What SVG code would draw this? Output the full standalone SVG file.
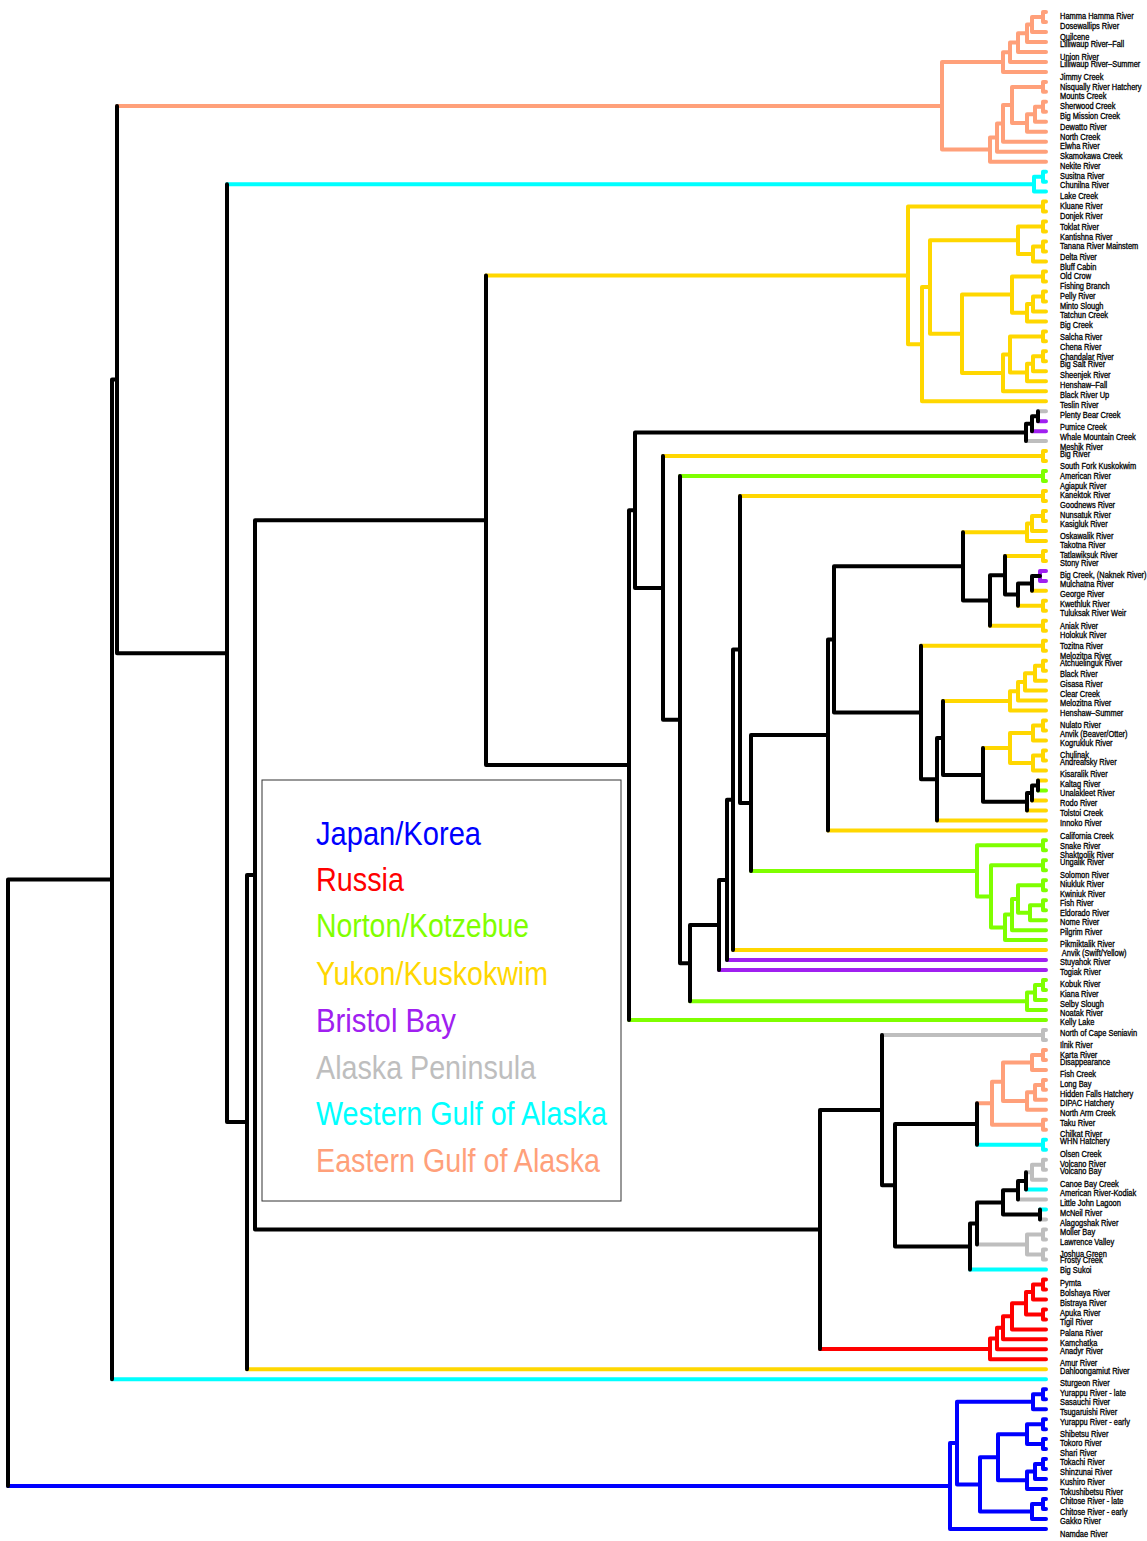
<svg xmlns="http://www.w3.org/2000/svg" width="1147" height="1541" viewBox="0 0 1147 1541">
<style>
.e{fill:none;stroke-width:4;stroke-linecap:round;stroke-linejoin:round}
.k{stroke:#000}.o{stroke:#FFA07A}.c{stroke:#00FFFF}.y{stroke:#FFD700}.g{stroke:#7FFF00}.p{stroke:#A020F0}.s{stroke:#BEBEBE}.r{stroke:#FF0000}.b{stroke:#0000FF}
.lb{font-family:"Liberation Sans",Arial,sans-serif;font-size:8.3px;fill:#000;stroke:#000;stroke-width:0.3}
.lg{font-family:"Liberation Sans",Arial,sans-serif;font-size:34px}
</style>
<rect width="1147" height="1541" fill="#fff"/>
<g id="legend">
<rect x="262" y="780" width="359" height="421" fill="#fff" stroke="#333" stroke-width="1"/>
<text class="lg" x="316" y="845" fill="#0000FF" textLength="165" lengthAdjust="spacingAndGlyphs">Japan/Korea</text>
<text class="lg" x="316" y="891" fill="#FF0000" textLength="88" lengthAdjust="spacingAndGlyphs">Russia</text>
<text class="lg" x="316" y="937" fill="#7FFF00" textLength="213" lengthAdjust="spacingAndGlyphs">Norton/Kotzebue</text>
<text class="lg" x="316" y="985" fill="#FFD700" textLength="232" lengthAdjust="spacingAndGlyphs">Yukon/Kuskokwim</text>
<text class="lg" x="316" y="1032" fill="#A020F0" textLength="140" lengthAdjust="spacingAndGlyphs">Bristol Bay</text>
<text class="lg" x="316" y="1079" fill="#BEBEBE" textLength="220" lengthAdjust="spacingAndGlyphs">Alaska Peninsula</text>
<text class="lg" x="316" y="1125" fill="#00FFFF" textLength="291" lengthAdjust="spacingAndGlyphs">Western Gulf of Alaska</text>
<text class="lg" x="316" y="1172" fill="#FFA07A" textLength="284" lengthAdjust="spacingAndGlyphs">Eastern Gulf of Alaska</text>
</g>
<g id="connectors">
<path class="e o" d="M1046 12H1043V22H1046M1032 17V32M1032 17H1043M1032 32H1046M1027 24.5V41.9M1027 24.5H1032M1027 41.9H1046M1018 33.2V51.9M1018 33.2H1027M1018 51.9H1046M1010 42.6V61.9M1010 42.6H1018M1010 61.9H1046M1003 52.2V71.9M1003 52.2H1010M1003 71.9H1046M1046 81.9H1043V91.8H1046M1046 101.8H1043V111.8H1046M1035 106.8V121.8M1035 106.8H1043M1035 121.8H1046M1027 114.3V131.8M1027 114.3H1035M1027 131.8H1046M1012 86.9V123.1M1012 86.9H1043M1012 123.1H1027M1003 105V141.7M1003 105H1012M1003 141.7H1046M997 123.4V151.7M997 123.4H1003M997 151.7H1046M990 137.5V161.7M990 137.5H997M990 161.7H1046M942 62.1V149.6M942 62.1H1003M942 149.6H990M117 105.9H942
M1046 1049.9H1043V1059.9H1046M1032 1054.9V1069.9M1032 1054.9H1043M1032 1069.9H1046M1046 1079.9H1043V1089.8H1046M1035 1084.9V1099.8M1035 1084.9H1043M1035 1099.8H1046M1027 1092.3V1109.8M1027 1092.3H1035M1027 1109.8H1046M1003 1062.4V1101.1M1003 1062.4H1032M1003 1101.1H1027M1046 1119.8H1043V1129.8H1046M992 1081.8V1124.8M992 1081.8H1003M992 1124.8H1043M977 1103.3H992"/>
<path class="e c" d="M1046 171.7H1043V181.7H1046M1034 176.7V191.6M1034 176.7H1043M1034 191.6H1046M227 184.2H1034M977 1144.7H1043M1046 1139.7H1043V1149.7H1046M970 1269.5H1046M1026 1189.6H1046M1040 1209.6H1046M112 1379.3H1046"/>
<path class="e s" d="M882 1035H1043M1046 1030H1043V1039.9H1046M1038 411.2H1046M1026 441.1H1046M1046 1159.7H1043V1169.7H1046M1032 1164.7V1179.7M1032 1164.7H1043M1032 1179.7H1046M1026 1172.2H1032M1018 1199.6H1046M1040 1219.6H1046M1046 1229.6H1043V1239.5H1046M1046 1249.5H1043V1259.5H1046M1027 1234.6V1254.5M1027 1234.6H1043M1027 1254.5H1043M977 1244.6H1027"/>
<path class="e p" d="M1038 421.2H1046M1032 431.2H1046M1046 570.9H1040V580.9H1046M727 960.1H1046M719 970.1H1046"/>
<path class="e y" d="M1046 201.6H1043V211.6H1046M1046 221.6H1043V231.6H1046M1046 241.5H1043V251.5H1046M1033 246.5V261.5M1033 246.5H1043M1033 261.5H1046M1018 226.6V254M1018 226.6H1043M1018 254H1033M1046 271.5H1043V281.5H1046M1046 291.4H1043V301.4H1046M1033 296.4V311.4M1033 296.4H1043M1033 311.4H1046M1027 303.9V321.4M1027 303.9H1033M1027 321.4H1046M1012 276.5V312.7M1012 276.5H1043M1012 312.7H1027M1046 331.4H1043V341.3H1046M1046 351.3H1043V361.3H1046M1033 356.3V371.3M1033 356.3H1043M1033 371.3H1046M1027 363.8V381.3M1027 363.8H1033M1027 381.3H1046M1010 336.4V372.6M1010 336.4H1043M1010 372.6H1027M1003 354.5V391.2M1003 354.5H1010M1003 391.2H1046M962 294.6V372.9M962 294.6H1012M962 372.9H1003M930 240.3V333.8M930 240.3H1018M930 333.8H962M922 287.1V401.2M922 287.1H930M922 401.2H1046M908 206.6V344.2M908 206.6H1043M908 344.2H922M486 275.4H908
M663 456.1H1043M1046 451.1H1043V461.1H1046M740 496H1043M1046 491H1043V501H1046
M1046 511H1043V521H1046M1032 516V531M1032 516H1043M1032 531H1046M1027 523.5V540.9M1027 523.5H1032M1027 540.9H1046M963 532.2H1027
M1046 550.9H1043V560.9H1046M1005 555.9H1043M1032 590.8H1046M1046 600.8H1043V610.8H1046M1018 605.8H1043M1046 620.8H1043V630.8H1046M990 625.8H1043
M1046 640.7H1043V650.7H1046M921 645.7H1043
M1046 660.7H1043V670.7H1046M1035 665.7V680.7M1035 665.7H1043M1035 680.7H1046M1025 673.2V690.6M1025 673.2H1035M1025 690.6H1046M1018 681.9V700.6M1018 681.9H1025M1018 700.6H1046M1010 691.3V710.6M1010 691.3H1018M1010 710.6H1046M943 701H1010
M1046 720.6H1043V730.6H1046M1033 725.6V740.5M1033 725.6H1043M1033 740.5H1046M1046 750.5H1043V760.5H1046M1033 755.5V770.5M1033 755.5H1043M1033 770.5H1046M1010 733.1V763M1010 733.1H1033M1010 763H1033M983 748H1010
M1038 780.5H1046M1032 800.4H1046M1027 810.4H1046M937 820.4H1046M828 830.4H1046M733 950.1H1046M247 1369.3H1046"/>
<path class="e g" d="M1038 790.4H1046M680 476.1H1043M1046 471.1H1043V481.1H1046
M751 870.9H977M977 845.3V896.4M977 845.3H1043M1046 840.3H1043V850.3H1046M977 896.4H991M991 865.3V927.4M991 865.3H1043M1046 860.3H1043V870.3H1046M991 927.4H1005M1005 914.6V940.1M1005 940.1H1046M1005 914.6H1012M1012 899V930.2M1012 930.2H1046M1012 899H1018M1018 885.3V912.7M1018 885.3H1043M1046 880.3H1043V890.2H1046M1018 912.7H1030M1030 905.2V920.2M1030 920.2H1046M1030 905.2H1043M1046 900.2H1043V910.2H1046
M690 1001.3H1027M1027 992.5V1010M1027 1010H1046M1027 992.5H1035M1035 985.1V1000M1035 1000H1046M1035 985.1H1043M1046 980.1H1043V990H1046M629 1020H1046"/>
<path class="e r" d="M820 1349H990M990 1338.6V1359.3M990 1359.3H1046M990 1338.6H997M997 1327.8V1349.3M997 1349.3H1046M997 1327.8H1003M1003 1316.3V1339.3M1003 1339.3H1046M1003 1316.3H1012M1012 1303.2V1329.4M1012 1329.4H1046M1012 1303.2H1026M1026 1292V1314.4M1026 1314.4H1043M1026 1292H1033M1046 1309.4H1043V1319.4H1046M1033 1284.5V1299.4M1033 1299.4H1046M1033 1284.5H1043M1046 1279.5H1043V1289.4H1046"/>
<path class="e b" d="M8 1486H950M950 1443V1529M950 1529H1046M950 1443H957M957 1401.7V1484.4M957 1401.7H1033M957 1484.4H980M1033 1394.2V1409.2M1033 1409.2H1046M1033 1394.2H1043M1046 1389.2H1043V1399.2H1046M980 1457.2V1511.5M980 1457.2H998M980 1511.5H1032M998 1434.2V1480.3M998 1434.2H1027M998 1480.3H1027M1027 1424.2V1444.1M1027 1424.2H1043M1027 1444.1H1043M1046 1419.2H1043V1429.2H1046M1046 1439.1H1043V1449.1H1046M1027 1471.6V1489M1027 1489H1046M1027 1471.6H1035M1035 1464.1V1479.1M1035 1479.1H1046M1035 1464.1H1043M1046 1459.1H1043V1469.1H1046M1032 1504V1519M1032 1519H1046M1032 1504H1043M1046 1499H1043V1509H1046"/>
<path class="e k" d="M8 879.4V1486M8 879.4H112M112 379.5V1379.3M112 379.5H117M117 105.9V653.2M117 653.2H227M227 184.2V1122.1M227 1122.1H247M247 874.9V1369.3M247 874.9H255M255 520.3V1229.6M255 520.3H486M255 1229.6H820M486 275.4V765.1M486 765.1H629M629 510.2V1020M629 510.2H635M635 432.4V587.9M635 432.4H1026M635 587.9H663M663 456.1V719.7M663 719.7H680M680 476.1V963.2M680 963.2H690M690 925V1001.3M690 925H719M719 880V970.1M719 880H727M727 799.8V960.1M727 799.8H733M733 649.5V950.1M733 649.5H740M740 496V802.9M740 802.9H751M751 734.9V870.9M751 734.9H828M828 639.4V830.4M828 639.4H834M834 566.3V712.5M834 566.3H963M834 712.5H921
M1026 423.7V441.1M1026 423.7H1032M1032 416.2V431.2M1032 416.2H1038M1038 411.2V421.2
M963 532.2V600.6M963 600.6H990M990 575.3V625.8M990 575.3H1005M1005 555.9V594.6M1005 594.6H1018M1018 583.4V605.8M1018 583.4H1032M1032 575.9V590.8M1032 575.9H1040
M921 645.7V779.2M921 779.2H937M937 738V820.4M937 738H943M943 701V774.9M943 774.9H983M983 748V801.7M983 801.7H1027M1027 793V810.4M1027 793H1032M1032 785.5V800.4M1032 785.5H1038M1038 780.5V790.4
M820 1110.1V1349M820 1110.1H882M882 1035V1185.3M882 1185.3H895M895 1124.1V1246.5M895 1124.1H977M895 1246.5H970M977 1103.3V1144.7M970 1223.5V1269.5M970 1223.5H977M977 1202.5V1244.6M977 1202.5H1003M1003 1190.3V1214.6M1003 1190.3H1018M1003 1214.6H1040M1040 1209.6V1219.6M1018 1180.9V1199.6M1018 1180.9H1026M1026 1172.2V1189.6"/>
</g>
<g id="leaves" class="lb" transform="translate(1060 0) scale(0.9 1)">
<g id="L1"><text y="18.7">Hamma Hamma River</text></g>
<g id="L2"><text y="28.7">Dosewallips River</text></g>
<g id="L3"><text y="40.3">Quilcene</text></g>
<g id="L4"><text y="47">Lilliwaup River–Fall</text></g>
<g id="L5"><text y="59.7">Union River</text></g>
<g id="L6"><text y="67.3">Lilliwaup River–Summer</text></g>
<g id="L7"><text y="79.7">Jimmy Creek</text></g>
<g id="L8"><text y="89.7">Nisqually River Hatchery</text></g>
<g id="L9"><text y="99">Mounts Creek</text></g>
<g id="L10"><text y="109">Sherwood Creek</text></g>
<g id="L11"><text y="119">Big Mission Creek</text></g>
<g id="L12"><text y="130">Dewatto River</text></g>
<g id="L13"><text y="140.3">North Creek</text></g>
<g id="L14"><text y="149.3">Elwha River</text></g>
<g id="L15"><text y="159.3">Skamokawa Creek</text></g>
<g id="L16"><text y="169.3">Nekite River</text></g>
<g id="L17"><text y="179.3">Susitna River</text></g>
<g id="L18"><text y="188.3">Chunilna River</text></g>
<g id="L19"><text y="198.7">Lake Creek</text></g>
<g id="L20"><text y="208.7">Kluane River</text></g>
<g id="L21"><text y="218.7">Donjek River</text></g>
<g id="L22"><text y="230.3">Toklat River</text></g>
<g id="L23"><text y="239.7">Kantishna River</text></g>
<g id="L24"><text y="249.3">Tanana River  Mainstem</text></g>
<g id="L25"><text y="259.7">Delta River</text></g>
<g id="L26"><text y="269.7">Bluff Cabin</text></g>
<g id="L27"><text y="279">Old Crow</text></g>
<g id="L28"><text y="289">Fishing Branch</text></g>
<g id="L29"><text y="299">Pelly River</text></g>
<g id="L30"><text y="309">Minto Slough</text></g>
<g id="L31"><text y="318.3">Tatchun Creek</text></g>
<g id="L32"><text y="328">Big Creek</text></g>
<g id="L33"><text y="339.7">Salcha River</text></g>
<g id="L34"><text y="349.7">Chena River</text></g>
<g id="L35"><text y="359.7">Chandalar River</text></g>
<g id="L36"><text y="366.7">Big Salt River</text></g>
<g id="L37"><text y="378.3">Sheenjek River</text></g>
<g id="L38"><text y="388.3">Henshaw–Fall</text></g>
<g id="L39"><text y="398">Black River Up</text></g>
<g id="L40"><text y="407.7">Teslin River</text></g>
<g id="L41"><text y="418">Plenty Bear Creek</text></g>
<g id="L42"><text y="429.7">Pumice Creek</text></g>
<g id="L43"><text y="439.7">Whale Mountain Creek</text></g>
<g id="L44"><text y="449.7">Meshik River</text></g>
<g id="L45"><text y="457">Big River</text></g>
<g id="L46"><text y="468.7">South Fork Kuskokwim</text></g>
<g id="L47"><text y="478.7">American River</text></g>
<g id="L48"><text y="488.7">Agiapuk River</text></g>
<g id="L49"><text y="497.7">Kanektok River</text></g>
<g id="L50"><text y="507.7">Goodnews River</text></g>
<g id="L51"><text y="517.7">Nunsatuk River</text></g>
<g id="L52"><text y="526.7">Kasigluk River</text></g>
<g id="L53"><text y="539.3">Oskawalik River</text></g>
<g id="L54"><text y="548.3">Takotna River</text></g>
<g id="L55"><text y="558.3">Tatlawiksuk River</text></g>
<g id="L56"><text y="565.7">Stony River</text></g>
<g id="L57"><text y="578.3">Big Creek, (Naknek River)</text></g>
<g id="L58"><text y="587.3">Mulchatna River</text></g>
<g id="L59"><text y="597.3">George River</text></g>
<g id="L60"><text y="607.3">Kwethluk River</text></g>
<g id="L61"><text y="616">Tuluksak River  Weir</text></g>
<g id="L62"><text y="629.3">Aniak River</text></g>
<g id="L63"><text y="638.3">Holokuk  River</text></g>
<g id="L64"><text y="649">Tozitna River</text></g>
<g id="L65"><text y="658.7">Melozitna River</text></g>
<g id="L66"><text y="665.7">Atchuelinguk River</text></g>
<g id="L67"><text y="677.3">Black River</text></g>
<g id="L68"><text y="687.3">Gisasa River</text></g>
<g id="L69"><text y="697.3">Clear  Creek</text></g>
<g id="L70"><text y="706.3">Melozitna River</text></g>
<g id="L71"><text y="716.3">Henshaw–Summer</text></g>
<g id="L72"><text y="728">Nulato River</text></g>
<g id="L73"><text y="737.3">Anvik (Beaver/Otter)</text></g>
<g id="L74"><text y="745.7">Kogrukluk River</text></g>
<g id="L75"><text y="758">Chulinak</text></g>
<g id="L76"><text y="765.3">Andreafsky River</text></g>
<g id="L77"><text y="777">Kisaralik River</text></g>
<g id="L78"><text y="787">Kaltag River</text></g>
<g id="L79"><text y="796">Unalakleet River</text></g>
<g id="L80"><text y="806">Rodo River</text></g>
<g id="L81"><text y="816">Tolstoi Creek</text></g>
<g id="L82"><text y="826">Innoko River</text></g>
<g id="L83"><text y="838.7">California Creek</text></g>
<g id="L84"><text y="848.7">Snake River</text></g>
<g id="L85"><text y="857.7">Shaktoolik River</text></g>
<g id="L86"><text y="865.3">Ungalik River</text></g>
<g id="L87"><text y="877.7">Solomon River</text></g>
<g id="L88"><text y="886.7">Niukluk River</text></g>
<g id="L89"><text y="896.7">Kwiniuk River</text></g>
<g id="L90"><text y="906.3">Fish River</text></g>
<g id="L91"><text y="916.3">Eldorado River</text></g>
<g id="L92"><text y="925">Nome River</text></g>
<g id="L93"><text y="935">Pilgrim  River</text></g>
<g id="L94"><text y="947.3">Pikmiktalik River</text></g>
<g id="L95"><text x="2" y="955.7">Anvik (Swift/Yellow)</text></g>
<g id="L96"><text y="964.7">Stuyahok River</text></g>
<g id="L97"><text y="974.7">Togiak River</text></g>
<g id="L98"><text y="986.7">Kobuk River</text></g>
<g id="L99"><text y="996.7">Kiana River</text></g>
<g id="L100"><text y="1006.7">Selby Slough</text></g>
<g id="L101"><text y="1015.7">Noatak River</text></g>
<g id="L102"><text y="1025">Kelly Lake</text></g>
<g id="L103"><text y="1036">North of Cape Seniavin</text></g>
<g id="L104"><text y="1047.7">Ilnik River</text></g>
<g id="L105"><text y="1057.7">Karta River</text></g>
<g id="L106"><text y="1064.7">Disappearance</text></g>
<g id="L107"><text y="1077">Fish Creek</text></g>
<g id="L108"><text y="1087">Long Bay</text></g>
<g id="L109"><text y="1097">Hidden Falls Hatchery</text></g>
<g id="L110"><text y="1106">DIPAC Hatchery</text></g>
<g id="L111"><text y="1116">North Arm Creek</text></g>
<g id="L112"><text y="1126">Taku River</text></g>
<g id="L113"><text y="1137">Chilkat River</text></g>
<g id="L114"><text y="1144.3">WHN Hatchery</text></g>
<g id="L115"><text y="1156.7">Olsen Creek</text></g>
<g id="L116"><text y="1166.7">Volcano River</text></g>
<g id="L117"><text y="1174">Volcano Bay</text></g>
<g id="L118"><text y="1187.3">Canoe Bay Creek</text></g>
<g id="L119"><text y="1196">American River-Kodiak</text></g>
<g id="L120"><text y="1206">Little John Lagoon</text></g>
<g id="L121"><text y="1216">McNeil River</text></g>
<g id="L122"><text y="1226">Alagogshak River</text></g>
<g id="L123"><text y="1235">Moller Bay</text></g>
<g id="L124"><text y="1245">Lawrence Valley</text></g>
<g id="L125"><text y="1256.7">Joshua Green</text></g>
<g id="L126"><text y="1263.3">Frosty Creek</text></g>
<g id="L127"><text y="1273.3">Big Sukoi</text></g>
<g id="L128"><text y="1285.7">Pymta</text></g>
<g id="L129"><text y="1296.3">Bolshaya River</text></g>
<g id="L130"><text y="1306.3">Bistraya River</text></g>
<g id="L131"><text y="1316.3">Apuka River</text></g>
<g id="L132"><text y="1325.3">Tigil  River</text></g>
<g id="L133"><text y="1336.3">Palana River</text></g>
<g id="L134"><text y="1346.3">Kamchatka</text></g>
<g id="L135"><text y="1353.7">Anadyr River</text></g>
<g id="L136"><text y="1366.3">Amur River</text></g>
<g id="L137"><text y="1373.7">Dahloongamiut River</text></g>
<g id="L138"><text y="1385.7">Sturgeon River</text></g>
<g id="L139"><text y="1395.7">Yurappu River - late</text></g>
<g id="L140"><text y="1405.3">Sasauchi River</text></g>
<g id="L141"><text y="1415.3">Tsugaruishi River</text></g>
<g id="L142"><text y="1425.3">Yurappu River - early</text></g>
<g id="L143"><text y="1436.7">Shibetsu River</text></g>
<g id="L144"><text y="1446">Tokoro River</text></g>
<g id="L145"><text y="1456">Shari River</text></g>
<g id="L146"><text y="1465">Tokachi River</text></g>
<g id="L147"><text y="1475">Shinzunai River</text></g>
<g id="L148"><text y="1485">Kushiro River</text></g>
<g id="L149"><text y="1495">Tokushibetsu River</text></g>
<g id="L150"><text y="1504.3">Chitose River - late</text></g>
<g id="L151"><text y="1515">Chitose River - early</text></g>
<g id="L152"><text y="1524.3">Gakko River</text></g>
<g id="L153"><text y="1536.7">Namdae River</text></g>
</g>
</svg>
